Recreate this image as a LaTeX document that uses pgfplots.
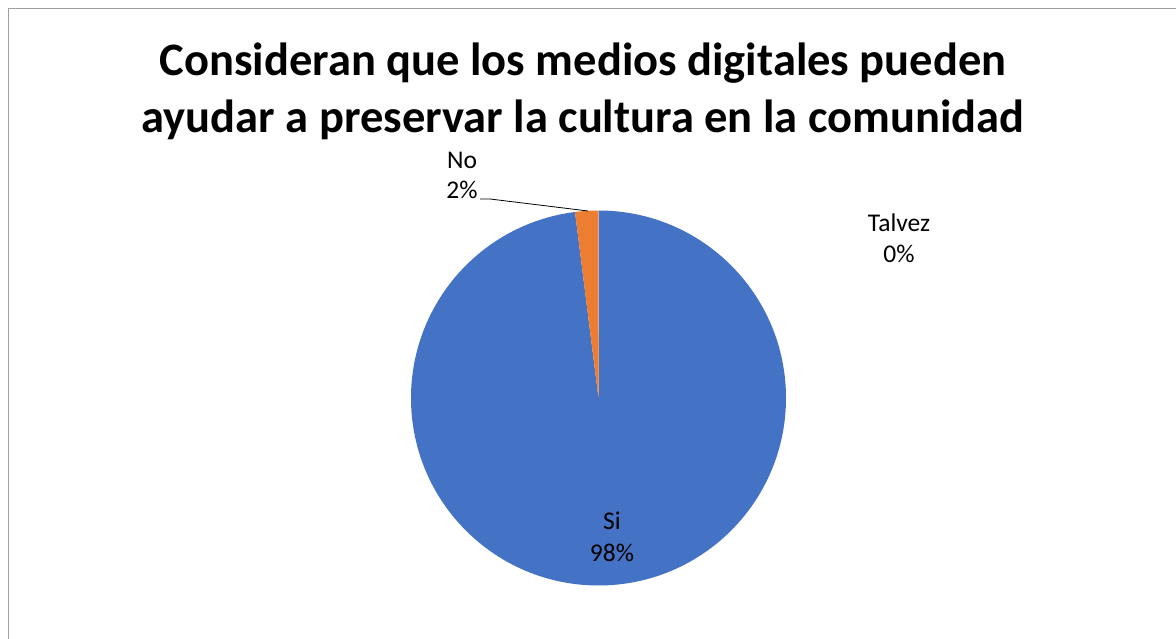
\documentclass[border=0pt]{standalone}
\usepackage{pgfplots}
\usepackage{pgfplotstable}
\usepackage{fontspec}
\setmainfont{Carlito}
\pgfplotsset{compat=1.18}
\definecolor{xlblue}{HTML}{4472C4}
\definecolor{xlorange}{HTML}{ED7D31}
\definecolor{xlgray}{HTML}{A0A0A0}
\pgfplotstableread{
label value
Si 98
No 2
Talvez 0
}\piedata
\begin{document}
\begin{tikzpicture}
\useasboundingbox (0,0) rectangle (1176pt,639pt);
\pgfplotstablegetelem{0}{value}\of\piedata \let\vSi\pgfplotsretval
\pgfplotstablegetelem{1}{value}\of\piedata \let\vNo\pgfplotsretval
\pgfplotstablegetelem{2}{value}\of\piedata \let\vTal\pgfplotsretval
\pgfmathsetmacro{\tot}{\vSi+\vNo+\vTal}
\pgfmathsetmacro{\aA}{90}
\pgfmathsetmacro{\aB}{90-\vSi/\tot*360}
\pgfmathsetmacro{\aC}{\aB-\vNo/\tot*360}
\begin{axis}[
  at={(0,0)}, anchor=origin,
  width=1176pt, height=639pt, scale only axis,
  xmin=0, xmax=1176, ymin=0, ymax=639,
  hide axis, clip=false,
]
% slices
\fill[xlblue] (axis cs:598.5,241) -- ++(\aA:187.5pt) arc[start angle=\aA, end angle=\aB, radius=187.5pt] -- cycle;
\fill[xlorange] (axis cs:598.5,241) -- ++(\aB:187.5pt) arc[start angle=\aB, end angle=\aC, radius=187.5pt] -- cycle;
% leader line
\addplot[black, line width=0.8pt, no marks] coordinates {(480,440) (490,440) (588,428)};
% frame
\draw[xlgray, line width=1pt] (axis cs:8.5,-5) -- (axis cs:8.5,630.5) -- (axis cs:1190,630.5);
% title
\node[anchor=base, font=\fontsize{46.5}{57}\selectfont\bfseries] at (axis cs:583,563) {Consideran que los medios digitales pueden};
\node[anchor=base, font=\fontsize{46.5}{57}\selectfont\bfseries] at (axis cs:583,506) {ayudar a preservar la cultura en la comunidad};
% labels
\node[anchor=base, font=\fontsize{25.5}{31}\selectfont] at (axis cs:462,470) {No};
\node[anchor=base, font=\fontsize{25.5}{31}\selectfont] at (axis cs:462,440) {2\%};
\node[anchor=base, font=\fontsize{25.5}{31}\selectfont] at (axis cs:899,407) {Talvez};
\node[anchor=base, font=\fontsize{25.5}{31}\selectfont] at (axis cs:899,376) {0\%};
\node[anchor=base, font=\fontsize{25.5}{31}\selectfont] at (axis cs:612,109) {Si};
\node[anchor=base, font=\fontsize{25.5}{31}\selectfont] at (axis cs:612,77) {98\%};
\end{axis}
\end{tikzpicture}
\end{document}
